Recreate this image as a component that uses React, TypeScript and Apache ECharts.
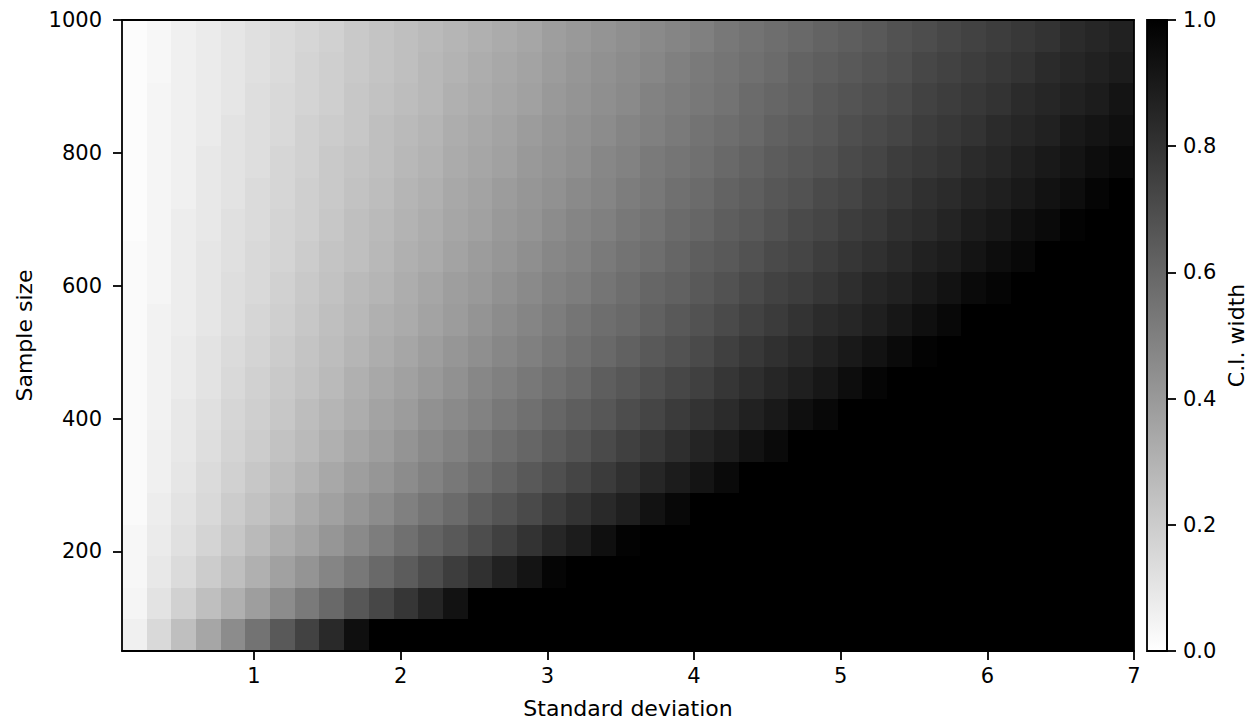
import React, { useEffect, useRef } from "react";
import * as echarts from "echarts";

// Standard deviation (columns) and sample size (rows)
const sdValues = [
  0.1, 0.2725, 0.445, 0.6175, 0.79, 0.9625, 1.135, 1.3075, 1.48, 1.6525,
  1.825, 1.9975, 2.17, 2.3425, 2.515, 2.6875, 2.86, 3.0325, 3.205, 3.3775,
  3.55, 3.7225, 3.895, 4.0675, 4.24, 4.4125, 4.585, 4.7575, 4.93, 5.1025,
  5.275, 5.4475, 5.62, 5.7925, 5.965, 6.1375, 6.31, 6.4825, 6.655, 6.8275, 7.0,
];
const sampleSizes = [
  50, 100, 150, 200, 250, 300, 350, 400, 450, 500,
  550, 600, 650, 700, 750, 800, 850, 900, 950, 1000,
];

// C.I. width, one row per sample size (bottom to top), one value per standard deviation
const ciWidth: number[][] = [
  [0.06,0.15,0.25,0.35,0.45,0.55,0.65,0.74,0.84,0.94, 1,1,1,1,1,1,1,1,1,1, 1,1,1,1,1,1,1,1,1,1, 1,1,1,1,1,1,1,1,1,1, 1],
  [0.04,0.11,0.18,0.25,0.31,0.38,0.45,0.52,0.59,0.66, 0.72,0.79,0.86,0.93,1,1,1,1,1,1, 1,1,1,1,1,1,1,1,1,1, 1,1,1,1,1,1,1,1,1,1, 1],
  [0.03,0.09,0.14,0.20,0.25,0.31,0.37,0.42,0.48,0.53, 0.59,0.64,0.70,0.76,0.81,0.87,0.92,0.98,1,1, 1,1,1,1,1,1,1,1,1,1, 1,1,1,1,1,1,1,1,1,1, 1],
  [0.03,0.08,0.12,0.17,0.22,0.27,0.32,0.36,0.41,0.46, 0.51,0.56,0.61,0.65,0.70,0.75,0.80,0.85,0.89,0.94, 0.99,1,1,1,1,1,1,1,1,1, 1,1,1,1,1,1,1,1,1,1, 1],
  [0.02,0.07,0.11,0.15,0.20,0.24,0.28,0.33,0.37,0.41, 0.45,0.50,0.54,0.58,0.63,0.67,0.71,0.76,0.80,0.84, 0.88,0.93,0.97,1,1,1,1,1,1,1, 1,1,1,1,1,1,1,1,1,1, 1],
  [0.02,0.06,0.10,0.14,0.18,0.22,0.26,0.30,0.34,0.38, 0.41,0.45,0.49,0.53,0.57,0.61,0.65,0.69,0.73,0.77, 0.81,0.85,0.89,0.92,0.96,1,1,1,1,1, 1,1,1,1,1,1,1,1,1,1, 1],
  [0.02,0.06,0.09,0.13,0.17,0.20,0.24,0.27,0.31,0.35, 0.38,0.42,0.46,0.49,0.53,0.57,0.60,0.64,0.67,0.71, 0.75,0.78,0.82,0.86,0.89,0.93,0.96,1,1,1, 1,1,1,1,1,1,1,1,1,1, 1],
  [0.02,0.05,0.09,0.12,0.16,0.19,0.22,0.26,0.29,0.32, 0.36,0.39,0.43,0.46,0.49,0.53,0.56,0.60,0.63,0.66, 0.70,0.73,0.77,0.80,0.83,0.87,0.90,0.94,0.97,1, 1,1,1,1,1,1,1,1,1,1, 1],
  [0.02,0.05,0.08,0.11,0.15,0.18,0.21,0.24,0.27,0.31, 0.34,0.37,0.40,0.43,0.47,0.50,0.53,0.56,0.59,0.63, 0.66,0.69,0.72,0.75,0.79,0.82,0.85,0.88,0.91,0.95, 0.98,1,1,1,1,1,1,1,1,1, 1],
  [0.02,0.05,0.08,0.11,0.14,0.17,0.20,0.23,0.26,0.29, 0.32,0.35,0.38,0.41,0.44,0.47,0.50,0.53,0.56,0.59, 0.62,0.65,0.68,0.71,0.75,0.78,0.81,0.84,0.87,0.90, 0.93,0.96,0.99,1,1,1,1,1,1,1, 1],
  [0.02,0.05,0.07,0.10,0.13,0.16,0.19,0.22,0.25,0.28, 0.31,0.33,0.36,0.39,0.42,0.45,0.48,0.51,0.54,0.57, 0.59,0.62,0.65,0.68,0.71,0.74,0.77,0.80,0.83,0.85, 0.88,0.91,0.94,0.97,1.00,1,1,1,1,1, 1],
  [0.02,0.04,0.07,0.10,0.13,0.15,0.18,0.21,0.24,0.27, 0.29,0.32,0.35,0.38,0.40,0.43,0.46,0.49,0.51,0.54, 0.57,0.60,0.62,0.65,0.68,0.71,0.74,0.76,0.79,0.82, 0.85,0.87,0.90,0.93,0.96,0.98,1,1,1,1, 1],
  [0.02,0.04,0.07,0.10,0.12,0.15,0.17,0.20,0.23,0.25, 0.28,0.31,0.33,0.36,0.39,0.41,0.44,0.47,0.49,0.52, 0.55,0.57,0.60,0.63,0.65,0.68,0.71,0.73,0.76,0.79, 0.81,0.84,0.87,0.89,0.92,0.95,0.97,1.00,1,1, 1],
  [0.01,0.04,0.07,0.09,0.12,0.14,0.17,0.19,0.22,0.25, 0.27,0.30,0.32,0.35,0.37,0.40,0.42,0.45,0.48,0.50, 0.53,0.55,0.58,0.60,0.63,0.65,0.68,0.71,0.73,0.76, 0.78,0.81,0.83,0.86,0.89,0.91,0.94,0.96,0.99,1, 1],
  [0.01,0.04,0.06,0.09,0.11,0.14,0.16,0.19,0.21,0.24, 0.26,0.29,0.31,0.34,0.36,0.39,0.41,0.43,0.46,0.48, 0.51,0.53,0.56,0.58,0.61,0.63,0.66,0.68,0.71,0.73, 0.76,0.78,0.81,0.83,0.86,0.88,0.90,0.93,0.95,0.98, 1],
  [0.01,0.04,0.06,0.09,0.11,0.13,0.16,0.18,0.21,0.23, 0.25,0.28,0.30,0.33,0.35,0.37,0.40,0.42,0.44,0.47, 0.49,0.52,0.54,0.56,0.59,0.61,0.64,0.66,0.68,0.71, 0.73,0.76,0.78,0.80,0.83,0.85,0.88,0.90,0.92,0.95, 0.97],
  [0.01,0.04,0.06,0.08,0.11,0.13,0.15,0.18,0.20,0.22, 0.25,0.27,0.29,0.32,0.34,0.36,0.39,0.41,0.43,0.45, 0.48,0.50,0.52,0.55,0.57,0.59,0.62,0.64,0.66,0.69, 0.71,0.73,0.76,0.78,0.80,0.83,0.85,0.87,0.90,0.92, 0.94],
  [0.01,0.04,0.06,0.08,0.10,0.13,0.15,0.17,0.19,0.22, 0.24,0.26,0.28,0.31,0.33,0.35,0.37,0.40,0.42,0.44, 0.46,0.49,0.51,0.53,0.55,0.58,0.60,0.62,0.65,0.67, 0.69,0.71,0.74,0.76,0.78,0.80,0.83,0.85,0.87,0.89, 0.92],
  [0.01,0.03,0.06,0.08,0.10,0.12,0.14,0.17,0.19,0.21, 0.23,0.25,0.28,0.30,0.32,0.34,0.36,0.39,0.41,0.43, 0.45,0.47,0.50,0.52,0.54,0.56,0.58,0.61,0.63,0.65, 0.67,0.69,0.72,0.74,0.76,0.78,0.80,0.83,0.85,0.87, 0.89],
  [0.01,0.03,0.06,0.08,0.10,0.12,0.14,0.16,0.18,0.21, 0.23,0.25,0.27,0.29,0.31,0.33,0.35,0.38,0.40,0.42, 0.44,0.46,0.48,0.50,0.53,0.55,0.57,0.59,0.61,0.63, 0.65,0.68,0.70,0.72,0.74,0.76,0.78,0.80,0.83,0.85, 0.87],
];

// Tick labels
const xTicks = [1, 2, 3, 4, 5, 6, 7];
const yTicks = [200, 400, 600, 800, 1000];
const cbTicks = [0, 0.2, 0.4, 0.6, 0.8, 1.0];

const FONT = "DejaVu Sans";
const FS = 21;
const FS_NAME = 22;
const AX = "#000";

function grayOf(v: number): string {
  const c = Math.max(0, Math.min(1, v));
  const g = Math.round(255 * (1 - c));
  return `rgb(${g},${g},${g})`;
}

export default function App() {
  const ref = useRef<HTMLDivElement>(null);

  useEffect(() => {
    if (!ref.current) return;
    const chart = echarts.init(ref.current, null, { renderer: "svg" });

    const nCols = sdValues.length;
    const nRows = sampleSizes.length;
    const xLo = sdValues[0];
    const xHi = sdValues[nCols - 1];
    const yLo = sampleSizes[0];
    const yHi = sampleSizes[nRows - 1];
    const cellW = (xHi - xLo) / nCols;
    const cellH = (yHi - yLo) / nRows;

    const cells: number[][] = [];
    ciWidth.forEach((row, j) => {
      row.forEach((v, i) => {
        cells.push([sdValues[i], sampleSizes[j], v, i, j]);
      });
    });

    const lineStyle = { color: AX, width: 1.8 };

    const option: any = {
      animation: false,
      backgroundColor: "#ffffff",
      textStyle: { fontFamily: FONT },
      grid: [
        {
          left: 122, top: 20, width: 1012, height: 631, show: false,
          containLabel: false, outerBoundsMode: "none",
        },
        {
          left: 1147, top: 20, width: 20, height: 631, show: false,
          containLabel: false, outerBoundsMode: "none",
        },
      ],
      xAxis: [
        {
          gridIndex: 0,
          type: "value",
          min: xLo,
          max: xHi,
          position: "bottom",
          z: 10,
          axisLine: { show: true, onZero: false, lineStyle },
          axisTick: { show: true, inside: false, length: 9, customValues: xTicks, lineStyle },
          axisLabel: {
            show: true,
            customValues: xTicks,
            margin: 14,
            fontSize: FS,
            fontFamily: FONT,
            color: "#000",
            formatter: (v: number) => String(v),
          },
          splitLine: { show: false },
          name: "Standard deviation",
          nameLocation: "middle",
          nameGap: 46,
          nameTextStyle: { fontSize: FS_NAME, fontFamily: FONT, color: "#000" },
        },
        {
          gridIndex: 0,
          type: "value",
          min: xLo,
          max: xHi,
          position: "top",
          z: 10,
          axisLine: { show: true, onZero: false, lineStyle },
          axisTick: { show: false },
          axisLabel: { show: false },
          splitLine: { show: false },
        },
        {
          gridIndex: 1,
          type: "value",
          min: 0,
          max: 1,
          show: false,
        },
      ],
      yAxis: [
        {
          gridIndex: 0,
          type: "value",
          min: yLo,
          max: yHi,
          position: "left",
          z: 10,
          axisLine: { show: true, onZero: false, lineStyle },
          axisTick: { show: true, inside: false, length: 9, customValues: yTicks, lineStyle },
          axisLabel: {
            show: true,
            customValues: yTicks,
            margin: 20,
            fontSize: FS,
            fontFamily: FONT,
            color: "#000",
            formatter: (v: number) => String(v),
          },
          splitLine: { show: false },
          name: "Sample size",
          nameLocation: "middle",
          nameGap: 87,
          nameRotate: 90,
          nameTextStyle: { fontSize: FS_NAME, fontFamily: FONT, color: "#000" },
        },
        {
          gridIndex: 0,
          type: "value",
          min: yLo,
          max: yHi,
          position: "right",
          z: 10,
          axisLine: { show: true, onZero: false, lineStyle },
          axisTick: { show: false },
          axisLabel: { show: false },
          splitLine: { show: false },
        },
        {
          gridIndex: 1,
          type: "value",
          min: 0,
          max: 1,
          interval: 0.2,
          position: "right",
          z: 10,
          axisLine: { show: true, onZero: false, lineStyle },
          axisTick: { show: true, inside: false, length: 9, customValues: cbTicks, lineStyle },
          axisLabel: {
            show: true,
            customValues: cbTicks,
            margin: 16,
            fontSize: FS,
            fontFamily: FONT,
            color: "#000",
            formatter: (v: number) => v.toFixed(1),
          },
          splitLine: { show: false },
          name: "C.I. width",
          nameLocation: "middle",
          nameGap: 58,
          nameRotate: 90,
          nameTextStyle: { fontSize: FS_NAME, fontFamily: FONT, color: "#000" },
        },
      ],
      series: [
        {
          type: "custom",
          xAxisIndex: 0,
          yAxisIndex: 0,
          z: 2,
          clip: true,
          data: cells,
          renderItem: (params: any, api: any) => {
            const i = api.value(3);
            const j = api.value(4);
            const v = api.value(2);
            const x0 = xLo + i * cellW;
            const y0 = yLo + j * cellH;
            const pTL = api.coord([x0, y0 + cellH]);
            const pBR = api.coord([x0 + cellW, y0]);
            const L = Math.round(pTL[0]);
            const T = Math.round(pTL[1]);
            const R = Math.round(pBR[0]);
            const B = Math.round(pBR[1]);
            const col = grayOf(v);
            return {
              type: "rect",
              shape: { x: L, y: T, width: R - L, height: B - T },
              style: { fill: col, stroke: null },
            };
          },
        },
        {
          type: "custom",
          xAxisIndex: 2,
          yAxisIndex: 2,
          z: 2,
          data: [[0, 0]],
          renderItem: (params: any, api: any) => {
            const pTL = api.coord([0, 1]);
            const pBR = api.coord([1, 0]);
            return {
              type: "rect",
              shape: {
                x: pTL[0],
                y: pTL[1],
                width: pBR[0] - pTL[0],
                height: pBR[1] - pTL[1],
              },
              style: {
                fill: new echarts.graphic.LinearGradient(0, 0, 0, 1, [
                  { offset: 0, color: "#000000" },
                  { offset: 1, color: "#ffffff" },
                ]),
                stroke: AX,
                lineWidth: 1.8,
              },
            };
          },
        },
      ],
    };

    chart.setOption(option);
    return () => {
      chart.dispose();
    };
  }, []);

  return (
    <div
      ref={ref}
      style={{ position: "absolute", left: 0, top: 0, width: 1252, height: 719 }}
    />
  );
}
